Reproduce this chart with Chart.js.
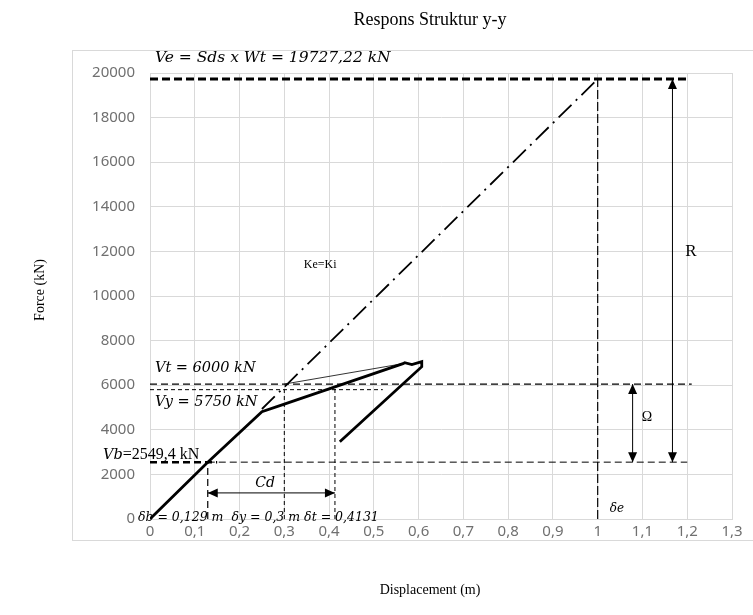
<!DOCTYPE html>
<html lang="en">
<head>
    <meta charset="UTF-8">
    <title>Respons Struktur y-y</title>
    <style>
        body { margin: 0; background: #fff; }
        #myChart { display: block; }
    </style>
    <script src="https://cdn.jsdelivr.net/npm/chart.js"></script>
</head>
<body>
    <canvas id="myChart" width="753" height="615"></canvas>
    <script>
        // pushover curve (displacement m, force kN)
        const curveX = [0, 0.129, 0.25, 0.30, 0.4131, 0.565, 0.569, 0.585, 0.607, 0.607, 0.424];
        const curveY = [0, 2549, 4809, 5150, 5925, 6966, 7011, 6921, 7056, 6830, 3460];
        // thin line from Vt point to the peak
        const thinX = [0.3, 0.565];
        const thinY = [6050, 6966];
        // Ke = Ki elastic line
        const keX = [0.25, 1.0];
        const keY = [4932, 19727.22];

        // reference levels
        const Ve = 19727.22, Vt = 6050, Vy = 5800, Vb = 2549.4;
        const deltaB = 0.129, deltaY = 0.3, deltaT = 0.4131, deltaE = 1.0;

        const xTicks = [0, 0.1, 0.2, 0.3, 0.4, 0.5, 0.6, 0.7, 0.8, 0.9, 1, 1.1, 1.2, 1.3];
        const yTicks = [0, 2000, 4000, 6000, 8000, 10000, 12000, 14000, 16000, 18000, 20000];

        function pts(xs, ys) { return xs.map((x, i) => ({ x: x, y: ys[i] })); }

        function line(data, width, dash, extra) {
            return Object.assign({
                data: data, showLine: true, borderColor: '#000', borderWidth: width,
                borderDash: dash, pointRadius: 0, fill: false, tension: 0
            }, extra || {});
        }

        const datasets = [
            line(pts([0, 1.205], [Ve, Ve]), 3, [8, 4]),
            line(pts([0, 1.21], [Vt, Vt]), 1.2, [7, 4]),
            line(pts([0, 0.52], [Vy, Vy]), 1, [4, 3]),
            line(pts([0, 0.15], [Vb, Vb]), 2.5, [7, 4]),
            line(pts([0.129, 1.2], [Vb, Vb]), 1, [7, 4]),
            line(pts([deltaB, deltaB], [0, Vb]), 1.2, [7, 4]),
            line(pts([deltaY, deltaY], [0, Vy]), 1, [4, 3]),
            line(pts([deltaT, deltaT], [0, 5900]), 1, [4, 3]),
            line(pts([deltaE, deltaE], [0, Ve]), 1.2, [9, 3]),
            line(pts(keX, keY), 1.8, [18, 6, 2, 6]),
            line(pts(thinX, thinY), 0.8, []),
            line(pts(curveX, curveY), 2.8, [])
        ];

        // arrows (data units) and their labels
        const arrows = [
            { x1: deltaB, y1: 1170, x2: deltaT, y2: 1170 },
            { x1: 1.078, y1: Vt, x2: 1.078, y2: Vb },
            { x1: 1.167, y1: Ve, x2: 1.167, y2: Vb }
        ];

        const notes = [
            { t: 'Ve = Sds x Wt = 19727,22 kN', x: 0.011, y: 20670, f: 'italic 15.5px "DejaVu Serif"', a: 'left' },
            { t: 'Vt = 6000 kN', x: 0.011, y: 6771, f: 'italic 14.5px "DejaVu Serif"', a: 'left' },
            { t: 'Vy = 5750 kN', x: 0.011, y: 5247, f: 'italic 14.5px "DejaVu Serif"', a: 'left' },
            { t: 'δb = 0,129 m  δy = 0,3 m δt = 0,4131', x: -0.027, y: 45, f: 'italic 12.5px "DejaVu Serif"', a: 'left' },
            { t: 'δe', x: 1.027, y: 450, f: 'italic 12px "DejaVu Serif"', a: 'left' },
            { t: 'Cd', x: 0.257, y: 1614, f: 'italic 14px "DejaVu Serif"', a: 'center' },
            { t: 'Ke=Ki', x: 0.38, y: 11390, f: '12px "Liberation Serif"', a: 'center' },
            { t: 'Ω', x: 1.11, y: 4574, f: '14px "Liberation Serif"', a: 'center' },
            { t: 'R', x: 1.208, y: 11973, f: '17px "Liberation Serif"', a: 'center' }
        ];

        const fmt = v => {
            const r = Math.round(v * 10) / 10;
            return Number.isInteger(r) ? String(r) : r.toFixed(1).replace('.', ',');
        };

        const decor = {
            id: 'decor',
            beforeDraw(chart) {
                const c = chart.ctx;
                c.save();
                c.fillStyle = '#fff';
                c.fillRect(0, 0, chart.width, chart.height);
                c.strokeStyle = '#d9d9d9';
                c.lineWidth = 1;
                c.strokeRect(72.5, 50.5, 700, 490);
                c.restore();
            },
            afterDraw(chart) {
                const c = chart.ctx, xs = chart.scales.x, ys = chart.scales.y;
                c.save();
                c.fillStyle = '#000';
                c.strokeStyle = '#000';
                c.lineWidth = 1;
                arrows.forEach(a => {
                    const x1 = xs.getPixelForValue(a.x1), y1 = ys.getPixelForValue(a.y1);
                    const x2 = xs.getPixelForValue(a.x2), y2 = ys.getPixelForValue(a.y2);
                    c.beginPath(); c.moveTo(x1, y1); c.lineTo(x2, y2); c.stroke();
                    [[x1, y1, x2, y2], [x2, y2, x1, y1]].forEach(p => {
                        const ang = Math.atan2(p[1] - p[3], p[0] - p[2]);
                        c.beginPath();
                        c.moveTo(p[0], p[1]);
                        c.lineTo(p[0] - 10 * Math.cos(ang) + 4.5 * Math.sin(ang), p[1] - 10 * Math.sin(ang) - 4.5 * Math.cos(ang));
                        c.lineTo(p[0] - 10 * Math.cos(ang) - 4.5 * Math.sin(ang), p[1] - 10 * Math.sin(ang) + 4.5 * Math.cos(ang));
                        c.closePath(); c.fill();
                    });
                });
                c.textBaseline = 'middle';
                notes.forEach(n => {
                    c.font = n.f;
                    c.textAlign = n.a;
                    c.fillText(n.t, xs.getPixelForValue(n.x), ys.getPixelForValue(n.y));
                });
                // Vb label: italic V b, regular rest
                const bx = xs.getPixelForValue(-0.105), by = ys.getPixelForValue(2870);
                c.textAlign = 'left';
                c.font = 'italic 14.5px "DejaVu Serif"';
                c.fillText('Vb', bx, by);
                const w = c.measureText('Vb').width;
                c.font = '16px "Liberation Serif"';
                c.fillText('=2549,4 kN', bx + w, by);
                // titles
                c.textAlign = 'center';
                c.font = '18px "Liberation Serif"';
                c.fillText('Respons Struktur y-y', 430, 20);
                c.font = '14px "Liberation Serif"';
                c.fillText('Displacement (m)', 430, 590);
                c.translate(40, 290);
                c.rotate(-Math.PI / 2);
                c.fillText('Force (kN)', 0, 0);
                c.restore();
            }
        };

        new Chart(document.getElementById('myChart'), {
            type: 'scatter',
            data: { datasets: datasets },
            options: {
                responsive: false,
                animation: false,
                layout: { padding: { top: 73, right: 21, left: 0, bottom: 0 } },
                plugins: { legend: { display: false }, tooltip: { enabled: false } },
                scales: {
                    x: {
                        type: 'linear', min: 0, max: 1.3,
                        afterBuildTicks: s => { s.ticks = xTicks.map(v => ({ value: v })); },
                        afterFit: s => { s.height = 96; },
                        grid: { color: '#d9d9d9', drawTicks: false },
                        border: { color: '#d9d9d9' },
                        ticks: { padding: 4, color: '#707070', font: { family: 'Noto Sans', size: 15 }, callback: v => fmt(v), maxRotation: 0 }
                    },
                    y: {
                        type: 'linear', min: 0, max: 20000,
                        afterBuildTicks: s => { s.ticks = yTicks.map(v => ({ value: v })); },
                        afterFit: s => { s.width = 150; },
                        grid: { color: '#d9d9d9', drawTicks: false },
                        border: { color: '#d9d9d9' },
                        ticks: { padding: 15, color: '#707070', font: { family: 'Noto Sans', size: 15 }, callback: v => String(v) }
                    }
                }
            },
            plugins: [decor]
        });
    </script>
</body>
</html>
